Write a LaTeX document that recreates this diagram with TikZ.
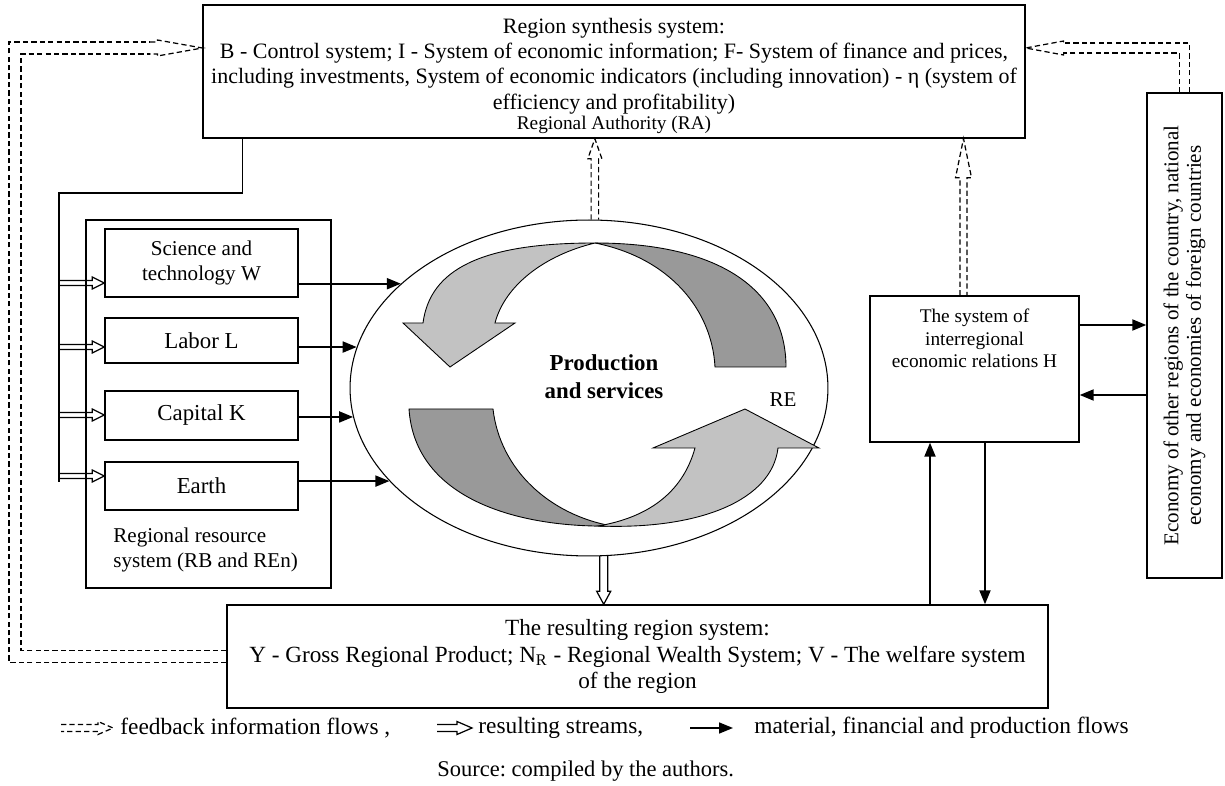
\documentclass[tikz,border=0pt]{standalone}
\usepackage{fontspec}
\setmainfont{Liberation Serif}
\usetikzlibrary{shapes.geometric,arrows.meta,calc,positioning}
\frenchspacing

\definecolor{lightband}{gray}{0.76}
\definecolor{darkband}{gray}{0.6}

\tikzset{
  box/.style={draw, line width=0.8pt, align=center, inner sep=1pt},
  txt/.style={inner sep=0pt, align=left},
  flow/.style={line width=1.1pt, -{Triangle[length=0.28cm, width=0.22cm]}},
  fb/.style={dash pattern=on 3pt off 1.8pt, line width=0.7pt},
  band/.style={draw, line width=0.5pt},
  shaftw/.store in=\shaftw, headw/.store in=\headw, headl/.store in=\headl,
  shaftw=0.05cm, headw=0.12cm, headl=0.24cm,
  hollow/.style={line width=0.7pt, to path={
    ($(\tikztostart)!\shaftw!90:(\tikztotarget)$)
    -- ($(\tikztotarget)!\headl!(\tikztostart)!\shaftw!90:(\tikztotarget)$)
    -- ($(\tikztotarget)!\headl!(\tikztostart)!\headw!90:(\tikztotarget)$)
    -- (\tikztotarget)
    -- ($(\tikztotarget)!\headl!(\tikztostart)!\headw!-90:(\tikztotarget)$)
    -- ($(\tikztotarget)!\headl!(\tikztostart)!\shaftw!-90:(\tikztotarget)$)
    -- ($(\tikztostart)!\shaftw!-90:(\tikztotarget)$)}},
}

\begin{document}
\begin{tikzpicture}[x=0.02cm, y=-0.02cm, every node/.append style={font=\fontsize{12}{14.2}\selectfont}]
\useasboundingbox (0,0) rectangle (1225,786);

% Region synthesis system
\node[box, minimum width=16.44cm, minimum height=2.66cm] (synth) at (614,71.5) {};
\node[align=center, font=\fontsize{12.5}{14.4}\selectfont] (synthtxt) at (614,76) {Region synthesis system:\\B - Control system; I - System of economic information; F- System of finance and prices,\\including investments, System of economic indicators (including innovation) - η (system of\\efficiency and profitability)\\[-2.5pt]{\fontsize{11}{12}\selectfont Regional Authority (RA)}};

% Regional resource system
\node[box, minimum width=4.9cm, minimum height=7.36cm] (res) at (208.5,404) {};
\node[box, minimum width=3.86cm, minimum height=1.36cm] (sci) at (201.5,263) {Science and\\technology W};
\node[box, minimum width=3.86cm, minimum height=0.9cm, font=\fontsize{13}{15}\selectfont] (labor) at (201.5,340.5) {Labor L};
\node[box, minimum width=3.86cm, minimum height=0.98cm, font=\fontsize{13}{15}\selectfont] (capital) at (201.5,415.5) {Capital K};
\node[box, minimum width=3.86cm, minimum height=0.96cm, font=\fontsize{13}{15}\selectfont] (earth) at (201.5,486) {Earth};
\node[txt, anchor=north west] (reslbl) at (113,528) {Regional resource\\system (RB and REn)};

% Production and services
\node[draw, ellipse, line width=0.6pt, minimum width=9.56cm, minimum height=6.72cm, inner sep=0pt] (prod) at (589,388) {};
\draw[band, fill=darkband] (595,243) .. controls (720,243) and (786,290) .. (786,367) -- (715,367) .. controls (712,310) and (670,258) .. (595,243) -- cycle;
\draw[band, fill=lightband] (595,243) .. controls (480,243) and (430,270) .. (423,323) -- (403,323) -- (450,367) -- (515,323) -- (495,323) .. controls (505,285) and (545,255) .. (595,243) -- cycle;
\draw[band, fill=darkband] (409,409) -- (493,409) .. controls (500,470) and (550,515) .. (612,526) .. controls (520,528) and (415,500) .. (409,409) -- cycle;
\draw[band, fill=lightband] (598,526) .. controls (700,530) and (772,500) .. (778,448) -- (819,448) -- (745,409) -- (653,448) -- (695,448) .. controls (682,495) and (645,518) .. (598,526) -- cycle;
\node[font=\fontsize{13}{16}\selectfont\bfseries, align=center] (prodtxt) at (604,377) {Production\\and services};
\node (re) at (783,400) {RE};

% Interregional relations
\node[box, minimum width=4.18cm, minimum height=2.92cm] (hbox) at (974.5,369) {};
\node[txt, align=center, anchor=north, font=\fontsize{11}{13}\selectfont] (htxt) at ([yshift=-0.26cm]hbox.north) {The system of\\interregional\\economic relations H};

% Other economies
\node[box, rotate=90, minimum width=9.7cm, minimum height=1.5cm, font=\fontsize{12}{12.8}\selectfont] (econ) at (1184.5,335.5) {Economy of other regions of the country, national\\economy and economies of foreign countries};

% Resulting region system
\node[box, minimum width=16.42cm, minimum height=2.06cm, font=\fontsize{13.2}{15}\selectfont] (result) at (637.5,656.5) {The resulting region system:\\Y - Gross Regional Product; N\textsubscript{R} - Regional Wealth System; V - The welfare system\\of the region};

% Control line to the resources
\coordinate (brtop) at (59,193);
\coordinate (brbot) at (59,482);
\draw[line width=0.8pt] ([xshift=0.8cm]synth.south west) |- (brtop) -- (brbot);
\foreach \b/\yy in {sci/283, labor/347, capital/415, earth/476}
  \draw[hollow] (brtop |- 0,\yy) to (\b.west |- 0,\yy);

% Material flows
\foreach \b/\a in {sci/151, labor/170, capital/187, earth/205}
  \draw[flow] (\b.east |- prod.\a) -- (prod.\a);
\draw[flow] (hbox.east |- 0,325) -- (econ.north |- 0,325);
\draw[flow] (econ.north |- 0,395) -- (hbox.east |- 0,395);
\draw[flow] (result.north -| 930,0) -- (hbox.south -| 930,0);
\draw[flow] (hbox.south -| 985,0) -- (result.north -| 985,0);

% Resulting stream
\draw[hollow, shaftw=0.08cm, headw=0.14cm, headl=0.26cm] (prod.-85) to (prod.-85 |- result.north);

% Feedback flows
\draw[hollow, fb, shaftw=0.075cm, headw=0.14cm, headl=0.4cm] (prod.88) to (prod.88 |- synth.south);
\coordinate (hup) at ([xshift=-0.22cm]hbox.north);
\draw[hollow, fb, shaftw=0.07cm, headw=0.16cm, headl=0.78cm] (hup) to (hup |- synth.south);
\coordinate (fbcorner) at (15,48);
\coordinate (fbL) at (150,48);
\foreach \s in {-6,6}
  \draw[fb] ($(result.west)+(0,\s)$) -| ($(fbcorner)+(-\s,-\s)$) -- ($(fbL)+(0,-\s)$);
\draw[hollow, fb, shaftw=0.12cm, headw=0.16cm, headl=0.9cm] (fbL) to (synth.west |- fbL);
\coordinate (fbR) at (1063,48);
\foreach \s in {-5,5}
  \draw[fb] ($(econ.east)+(\s,0)$) |- ($(fbR)+(0,-\s)$);
\draw[hollow, fb, shaftw=0.1cm, headw=0.14cm, headl=0.76cm] (fbR) to (synth.east |- fbR);

% Legend
\node[txt, anchor=west, font=\fontsize{13.3}{15}\selectfont] (lfb) at (120,728) {feedback information flows ,};
\draw[hollow, fb, shaftw=0.07cm, headw=0.13cm, headl=0.3cm] ([xshift=-1.18cm]lfb.west) to ([xshift=-0.14cm]lfb.west);
\node[txt, anchor=west, font=\fontsize{13.3}{15}\selectfont] (lrs) at (478,728) {resulting streams,};
\draw[hollow, shaftw=0.07cm, headw=0.13cm, headl=0.3cm] ([xshift=-0.82cm]lrs.west) to ([xshift=-0.12cm]lrs.west);
\node[txt, anchor=west, font=\fontsize{13.3}{15}\selectfont] (lmf) at (754,728) {material, financial and production flows};
\draw[flow, line width=0.9pt] ([xshift=-1.28cm]lmf.west) -- ([xshift=-0.42cm]lmf.west);
\node[txt, anchor=west, font=\fontsize{12.8}{15}\selectfont] (src) at (437,771) {Source: compiled by the authors.};
\end{tikzpicture}
\end{document}
